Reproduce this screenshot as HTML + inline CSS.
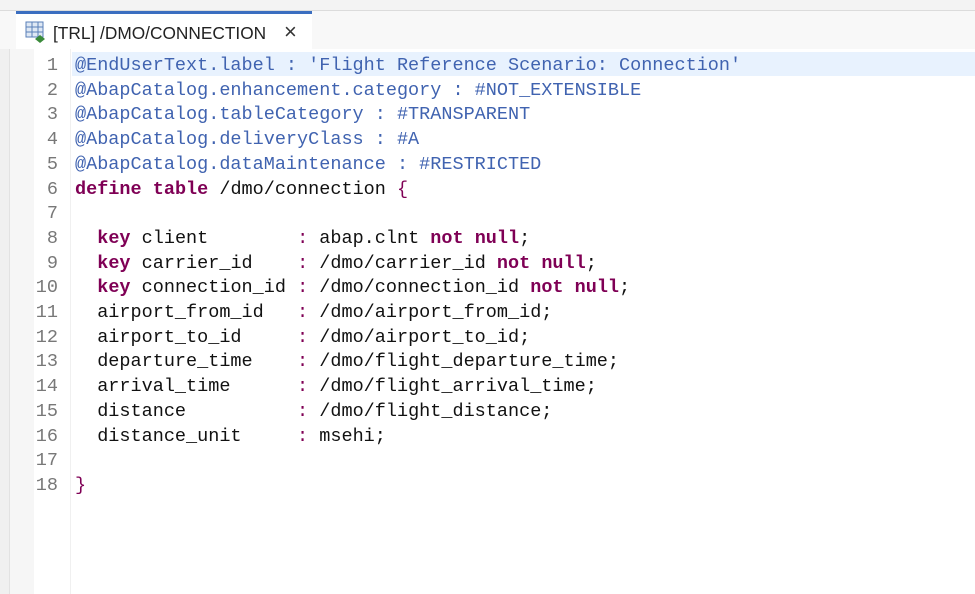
<!DOCTYPE html>
<html><head><meta charset="utf-8"><style>
body{margin:0;width:975px;height:594px;overflow:hidden;background:#fff;position:relative;font-family:"Liberation Sans",sans-serif}
.top{position:absolute;left:0;top:0;width:975px;height:10px;background:#f3f3f3;border-bottom:1px solid #dcdcdc}
.tabbar{position:absolute;left:0;top:11px;width:975px;height:38px;background:#f8f8f8}
.tab{position:absolute;left:16px;top:11px;width:296px;height:38px;background:#fff;border-top:3px solid #3b6ec0;box-sizing:border-box}
.tab span{position:absolute;left:37px;top:9px;font-size:17.3px;color:#222}
.tab .x{position:absolute;left:268px;top:5px;font-size:22px;color:#333}
.lside{position:absolute;left:0;top:49px;width:9px;height:545px;background:#f0f0f0;border-right:1px solid #e2e2e2}
.gut{position:absolute;left:10px;top:49px;width:24px;height:545px;background:#f6f6f6}
.vline{position:absolute;left:70px;top:49px;width:1px;height:545px;background:#f0f0f0}
.hl{position:absolute;left:72px;top:52px;width:903px;height:24px;background:#e8f2fe}
.num,.code{position:absolute;top:54px;font-family:"Liberation Mono",monospace;font-size:18.5px;line-height:24.7px;white-space:pre}
.num{left:30px;width:28px;text-align:right;color:#787878}
.code{left:75px;color:#111}
.a{color:#4063b0}.k{color:#7f0055;font-weight:bold}.p{color:#7f0055}
</style></head><body>
<div class="top"></div>
<div class="tabbar"></div>
<div class="tab"><svg style="position:absolute;left:9px;top:7px" width="22" height="22"><rect x="1" y="1" width="17" height="15" fill="#dfe8f4" stroke="#5a7fb8"/><line x1="1" y1="6" x2="18" y2="6" stroke="#5a7fb8"/><line x1="1" y1="11" x2="18" y2="11" stroke="#5a7fb8"/><line x1="7" y1="1" x2="7" y2="16" stroke="#5a7fb8"/><line x1="13" y1="1" x2="13" y2="16" stroke="#5a7fb8"/><polygon points="15,14 20,18 15,22 10,18" fill="#3a8a3a"/></svg><span>[TRL] /DMO/CONNECTION</span><span class="x">×</span></div>
<div class="lside"></div><div class="gut"></div><div class="vline"></div>
<div class="hl"></div>
<div class="num">1
2
3
4
5
6
7
8
9
10
11
12
13
14
15
16
17
18</div>
<div class="code"><span class="a">@EndUserText.label : 'Flight Reference Scenario: Connection'</span>
<span class="a">@AbapCatalog.enhancement.category : #NOT_EXTENSIBLE</span>
<span class="a">@AbapCatalog.tableCategory : #TRANSPARENT</span>
<span class="a">@AbapCatalog.deliveryClass : #A</span>
<span class="a">@AbapCatalog.dataMaintenance : #RESTRICTED</span>
<span class="k">define</span> <span class="k">table</span> /dmo/connection <span class="p">{</span>

  <span class="k">key</span> client        <span class="p">:</span> abap.clnt <span class="k">not null</span>;
  <span class="k">key</span> carrier_id    <span class="p">:</span> /dmo/carrier_id <span class="k">not null</span>;
  <span class="k">key</span> connection_id <span class="p">:</span> /dmo/connection_id <span class="k">not null</span>;
  airport_from_id   <span class="p">:</span> /dmo/airport_from_id;
  airport_to_id     <span class="p">:</span> /dmo/airport_to_id;
  departure_time    <span class="p">:</span> /dmo/flight_departure_time;
  arrival_time      <span class="p">:</span> /dmo/flight_arrival_time;
  distance          <span class="p">:</span> /dmo/flight_distance;
  distance_unit     <span class="p">:</span> msehi;

<span class="p">}</span></div>
</body></html>
